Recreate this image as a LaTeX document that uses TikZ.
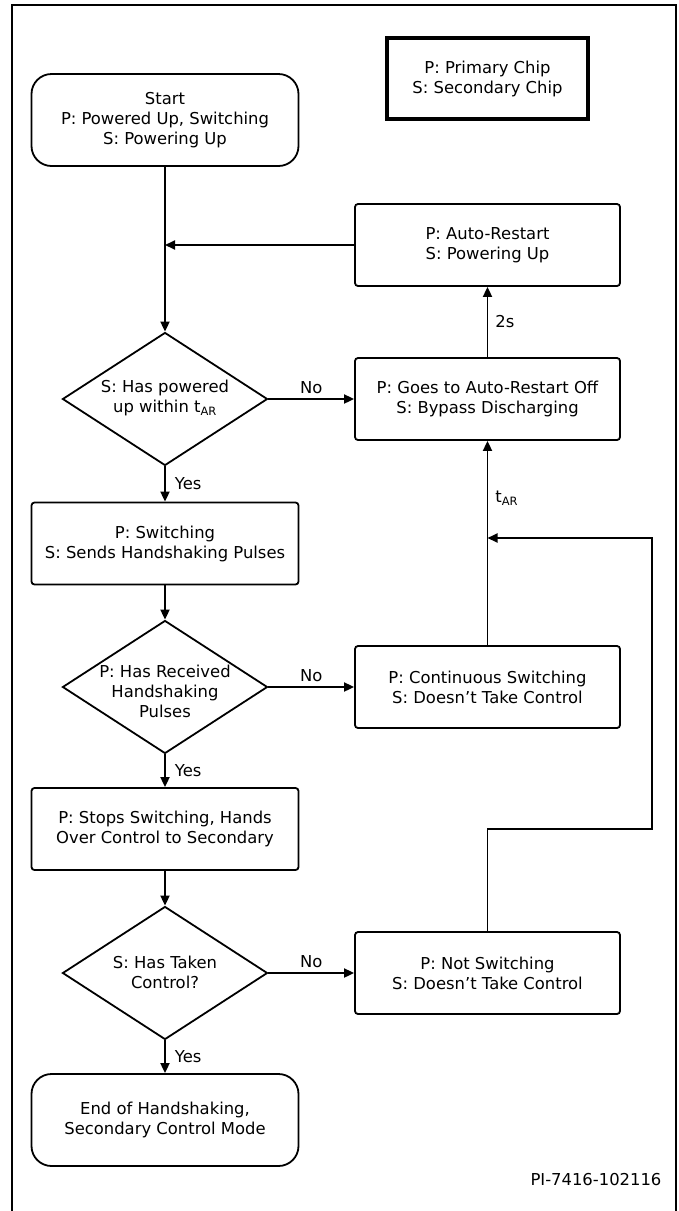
\documentclass[tikz,border=0pt]{standalone}
\usepackage{fontspec}
\setmainfont{DejaVu Sans}
\usetikzlibrary{arrows.meta,shapes.geometric}
\tikzset{
  txt/.style={font=\fontsize{16.4pt}{20pt}\selectfont, align=center, inner sep=2pt},
  box/.style={txt, draw, line width=1.8pt, rounded corners=3pt, minimum width=265pt, minimum height=82pt},
  term/.style={txt, draw, line width=1.8pt, rounded corners=20pt, minimum width=267pt, minimum height=92pt},
  dia/.style={draw, line width=1.8pt, shape=diamond, inner sep=0pt, minimum width=205pt, minimum height=133pt},
  legendbox/.style={txt, draw, line width=4pt, minimum width=201pt, minimum height=81pt},
  arr/.style={line width=1.8pt, -{Triangle[length=10pt,width=9pt]}},
  lbl/.style={txt, inner sep=1pt}
}
\begin{document}
\begin{tikzpicture}[x=1pt,y=-1pt]
\useasboundingbox (0,0) rectangle (678,1211);
% outer frame
\draw[line width=2pt] (12,5) rectangle (676,1214);

% legend
\node[legendbox] (legend) at (487.5,78.5) {P: Primary Chip\\S: Secondary Chip};

% left column
\node[term] (start) at (165,120) {Start\\P: Powered Up, Switching\\S: Powering Up};
\node[dia] (d1) at (165,399) {};
\node[txt] (d1t) at (165,398) {S: Has powered\\up within t\textsubscript{AR}};
\node[box, minimum width=267pt] (sw) at (165,543.5) {P: Switching\\S: Sends Handshaking Pulses};
\node[dia] (d2) at (165,687) {};
\node[txt] (d2t) at (165,691) {P: Has Received\\Handshaking\\Pulses};
\node[box, minimum width=267pt] (stop) at (165,829) {P: Stops Switching, Hands\\Over Control to Secondary};
\node[dia] (d3) at (165,973) {};
\node[txt] (d3t) at (165,972) {S: Has Taken\\Control?};
\node[term] (end) at (165,1120) {End of Handshaking,\\Secondary Control Mode};

% right column
\node[box] (auto) at (487.5,245) {P: Auto-Restart\\S: Powering Up};
\node[box] (goes) at (487.5,399) {P: Goes to Auto-Restart Off\\S: Bypass Discharging};
\node[box] (cont) at (487.5,687) {P: Continuous Switching\\S: Doesn’t Take Control};
\node[box] (notsw) at (487.5,973) {P: Not Switching\\S: Doesn’t Take Control};

\node[txt] (pi) at (596,1180) {PI-7416-102116};

% connectors
\draw[arr] (start.south) -- (d1.north);
\draw[arr] (auto.west) -- (auto.west -| start.south);
\draw[arr] (d1.east) -- node[lbl, above=3pt] {No} (goes.west);
\draw[arr] (goes.north) -- node[lbl, right=6pt] {2s} (auto.south);
\draw[arr] (d1.south) -- node[lbl, right=8pt] {Yes} (sw.north);
\draw[arr] (sw.south) -- (d2.north);
\draw[arr] (d2.east) -- node[lbl, above=3pt] {No} (cont.west);
\draw[arr] (cont.north) -- node[lbl, right=6pt, pos=0.72] {t\textsubscript{AR}} (goes.south);
\draw[arr] (d2.south) -- node[lbl, right=8pt] {Yes} (stop.north);
\draw[arr] (stop.south) -- (d3.north);
\draw[arr] (d3.east) -- node[lbl, above=3pt] {No} (notsw.west);
\draw[arr] (d3.south) -- node[lbl, right=8pt] {Yes} (end.north);

\coordinate (c1) at (652,829);
\coordinate (c2) at (652,538);
\coordinate (j) at (487.5,538);
\draw[arr] (notsw.north) -- (notsw.north |- c1) -- (c1) -- (c2) -- (j);
\end{tikzpicture}
\end{document}
